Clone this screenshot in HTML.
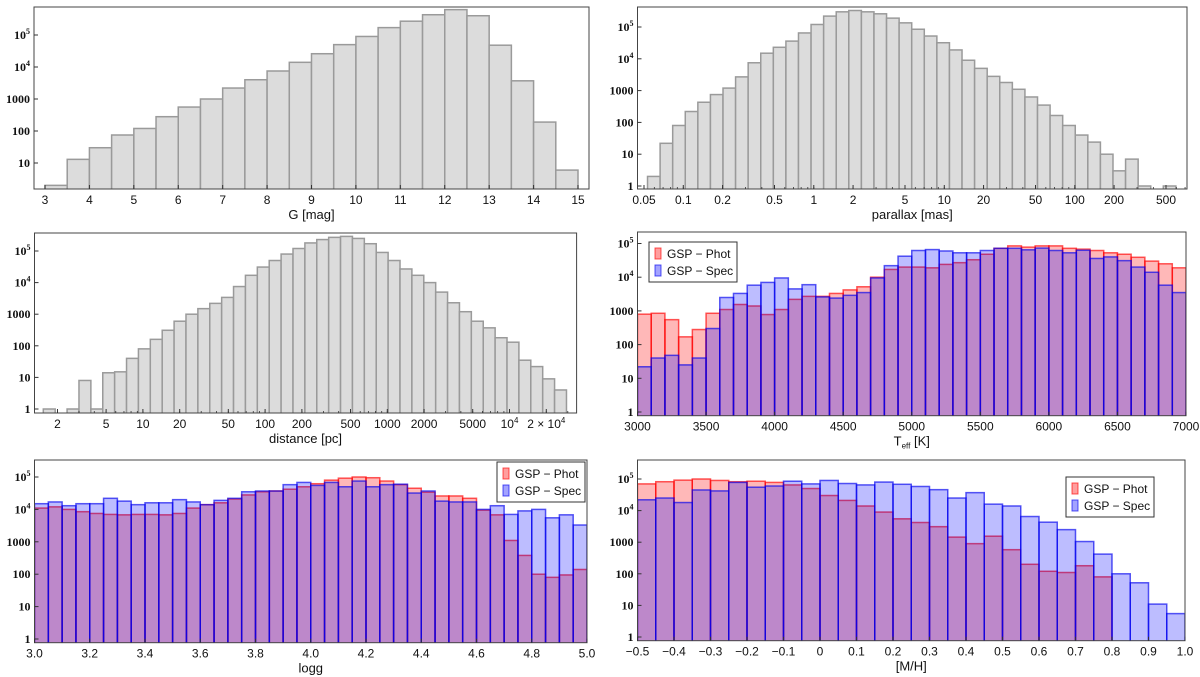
<!DOCTYPE html>
<html><head><meta charset="utf-8"><style>
html,body{margin:0;padding:0;background:#fff;}
svg{display:block;font-family:"Liberation Sans","DejaVu Sans",sans-serif;}
</style></head><body>
<svg id="fig" width="1200" height="677" viewBox="0 0 1200 677" xmlns="http://www.w3.org/2000/svg"></svg>
<script>
// ---- data ----
const gMagValues = [2,13,30,75,120,280,560,1000,2200,4000,7500,14000,26000,50000,90000,170000,270000,430000,620000,400000,48000,3700,190,6];
const parallaxValues = [2,22,80,220,430,750,1200,2700,7500,15000,23000,36000,65000,120000,220000,300000,330000,300000,260000,190000,135000,85000,52000,32000,19000,9000,5000,2800,1800,1100,630,350,165,80,40,24,10,3,7,1,0,1];
const distanceValues = [1,0,1,8,1,14,15,40,80,160,310,600,1000,1500,2200,3400,7500,17000,31000,50000,80000,120000,180000,230000,270000,290000,250000,170000,90000,50000,27000,17000,10000,5000,2300,1200,600,370,180,130,35,22,9,4];
const teffPhot = [800,850,550,170,280,850,1100,1550,1400,780,1100,2200,2700,2700,3300,4200,5200,10000,17000,20000,20000,19000,24000,27000,33000,48000,72000,85000,78000,85000,85000,72000,68000,62000,53000,48000,39000,30000,25000,19000];
const teffSpec = [22,40,48,25,40,300,2500,3300,5800,7000,9500,4500,6000,2600,2400,2900,3500,9500,22000,42000,62000,66000,60000,53000,53000,62000,72000,72000,65000,73000,62000,53000,63000,36000,40000,31000,20000,14000,5800,3500];
const loggPhot = [11000,12000,10000,8500,7500,7000,6800,7000,7000,6800,7500,11000,14000,16000,21000,28000,35000,37000,42000,50000,62000,80000,92000,100000,95000,75000,58000,45000,34000,26000,26000,22000,9500,6800,1100,380,100,80,95,140];
const loggSpec = [15000,17000,13000,15000,15000,22000,18000,14000,16000,16000,20000,17000,14000,19000,22000,35000,37000,37000,58000,68000,55000,68000,50000,75000,50000,58000,60000,32000,37000,18000,17000,17000,10000,13000,7000,9000,10000,5500,6800,3300];
const mhPhot = [70000,82000,92000,100000,90000,82000,85000,78000,65000,50000,30000,21000,14000,9000,5500,4200,3100,1450,900,1550,580,200,120,110,180,80,0,0,0,0];
const mhSpec = [22000,25000,18000,45000,42000,78000,55000,60000,85000,70000,90000,72000,65000,80000,68000,58000,46000,25000,37000,16000,14000,6500,4300,2500,1050,420,100,52,11,5.5];
const gTicks = [3,4,5,6,7,8,9,10,11,12,13,14,15];
const parallaxTicks = [0.05,0.1,0.2,0.5,1,2,5,10,20,50,100,200,500];
const distanceTicks = [2,5,10,20,50,100,200,500,1000,2000,5000,10000,20000];
const teffTicks = [3000,3500,4000,4500,5000,5500,6000,6500,7000];
const loggTicks = [3.0,3.2,3.4,3.6,3.8,4.0,4.2,4.4,4.6,4.8,5.0];
const mhTicks = [-0.5,-0.4,-0.3,-0.2,-0.1,0,0.1,0.2,0.3,0.4,0.5,0.6,0.7,0.8,0.9,1.0];
const yTickVals = [1,10,100,1000,10000,100000];

const NS = "http://www.w3.org/2000/svg";
const svg = document.getElementById('fig');
function mk(tag, attrs, parent){const e=document.createElementNS(NS,tag);for(const k in attrs)e.setAttribute(k,attrs[k]);(parent||svg).appendChild(e);return e;}
function lin(d0,d1,p0,p1){return v=>p0+(v-d0)*(p1-p0)/(d1-d0);}
function logx(p1,dec){return v=>p1+Math.log10(v)*dec;}

function panel(cfg){
  const g = mk('g',{});
  
  
  const [L,T,R,B]=cfg.box;
  const yv = v=>cfg.y1 - Math.log10(v)*cfg.dec;
  const cid='clip-'+cfg.name;
  const cp=mk('clipPath',{id:cid},g); mk('rect',{x:L,y:T,width:R-L,height:B-T},cp);
  const bars=mk('g',{'clip-path':'url(#'+cid+')'},g);
  cfg.series.forEach(s=>{
    s.values.forEach((v,i)=>{
      if(!(v>0))return;
      const x0=cfg.x(cfg.edge(i)), x1=cfg.x(cfg.edge(i+1));
      const y=yv(v);
      const r=mk('rect',{x:x0,y:y,width:x1-x0,height:B+2-y,fill:s.fill,'fill-opacity':s.fo,stroke:s.stroke,'stroke-opacity':s.so,'stroke-width':1.5},bars);
      
      
    });
  });
  // frame
  const fr=mk('rect',{x:L,y:T,width:R-L,height:B-T,fill:'none',stroke:'#444','stroke-width':1},g);
  
  
  // x ticks
  cfg.xticks.forEach((t,i)=>{
    const px=cfg.x(t);
    mk('line',{x1:px,x2:px,y1:B,y2:B-4,stroke:'#333','stroke-width':1},g);
    const tx=mk('text',{x:px,y:B+15,'text-anchor':'middle','font-size':12,fill:'#111'},g);
    
    
    const lab = cfg.xlabels ? cfg.xlabels[i] : String(t);
    if(lab==='10^4'){tx.textContent='10';const sp=mk('tspan',{dy:-5,'font-size':8},tx);sp.textContent='4';}
    else if(lab==='2x10^4'){tx.textContent='2 × 10';const sp=mk('tspan',{dy:-5,'font-size':8},tx);sp.textContent='4';}
    else tx.textContent=lab;
  });
  // minor x ticks
  if(cfg.minor){cfg.minor.forEach(m=>{const px=cfg.x(m);if(px>L&&px<R)mk('line',{x1:px,x2:px,y1:B,y2:B-2,stroke:'#333','stroke-width':0.8},g);});}
  // y ticks
  yTickVals.forEach(v=>{
    const py=yv(v); if(py<T-1||py>B+1)return;
    mk('line',{x1:L,x2:L+4,y1:py,y2:py,stroke:'#333','stroke-width':1},g);
    const tx=mk('text',{x:L-4,y:py+4,'text-anchor':'end','font-size':12,'font-weight':'bold',fill:'#111','font-family':'Liberation Serif, serif'},g);
    
    
    if(v>=10000){tx.textContent='10';const sp=mk('tspan',{dy:-5,'font-size':8},tx);sp.textContent=String(Math.round(Math.log10(v)));}
    else tx.textContent=String(v);
  });
  // x title
  const xt=mk('text',{x:(L+R)/2,y:B+30,'text-anchor':'middle','font-size':13,fill:'#111'},g);
  
  
  if(cfg.title==='Teff'){xt.textContent='T';const s=mk('tspan',{dy:3,'font-size':8},xt);s.textContent='eff';const s2=mk('tspan',{dy:-3},xt);s2.textContent=' [K]';}
  else xt.textContent=cfg.title;
  // legend
  if(cfg.legend){
    const [lx,ly]=cfg.legend;
    const lg=mk('g',{},g);
    
    
    mk('rect',{x:lx,y:ly,width:88,height:40,fill:'#fff',stroke:'#333','stroke-width':1},lg);
    cfg.series.forEach((s,i)=>{
      const e=mk('g',{},lg);
      
      
      mk('rect',{x:lx+6,y:ly+6+i*17,width:6,height:11,fill:s.fill,'fill-opacity':s.fo+0.1,stroke:s.stroke,'stroke-opacity':s.so},e);
      const t=mk('text',{x:lx+18,y:ly+16+i*17,'font-size':12,fill:'#111'},e);
      t.textContent=s.label;
    });
  }
}
function logMinor(lo,hi){const a=[];for(let e=lo;e<=hi;e++)for(let k=1;k<10;k++)a.push(k*Math.pow(10,e));return a;}
const gray={key:'count',values:null,fill:'#dcdcdc',fo:1,stroke:'#9a9a9a',so:1};
const red=(v)=>({key:'phot',label:'GSP − Phot',values:v,fill:'#ff0000',fo:0.28,stroke:'#ff0000',so:0.65});
const blue=(v)=>({key:'spec',label:'GSP − Spec',values:v,fill:'#0000ff',fo:0.26,stroke:'#0000ee',so:0.65});

panel({name:'g-mag-panel',box:[34,7,589,189],x:lin(3,15,45,578),edge:i=>3+0.5*i,y1:195,dec:32,
  series:[Object.assign({},gray,{values:gMagValues})],xticks:gTicks,title:'G [mag]',minor:[]});
panel({name:'parallax-panel',box:[637.5,7,1187,189],x:v=>644+(Math.log10(v)-Math.log10(0.05))*130.5,
  edge:i=>Math.pow(10,-1.274+0.0964*i),y1:186,dec:31.8,
  series:[Object.assign({},gray,{values:parallaxValues})],xticks:parallaxTicks,title:'parallax [mas]',minor:logMinor(-2,2)});
panel({name:'distance-panel',box:[34.5,233,576.6,413],x:logx(20.7,122.2),edge:i=>Math.pow(10,0.185+0.0973*i),y1:409,dec:31.6,
  series:[Object.assign({},gray,{values:distanceValues})],xticks:distanceTicks,
  xlabels:['2','5','10','20','50','100','200','500','1000','2000','5000','10^4','2x10^4'],title:'distance [pc]',minor:logMinor(0,4)});
panel({name:'teff-panel',box:[637.5,232,1186,415.7],x:lin(3000,7000,637.5,1186),edge:i=>3000+100*i,y1:412,dec:33.7,
  series:[red(teffPhot),blue(teffSpec)],xticks:teffTicks,title:'Teff',legend:[649,242]});
panel({name:'logg-panel',box:[34.5,460,587,642.7],x:lin(3,5,34.5,587),edge:i=>3+0.05*i,y1:639,dec:32.4,
  series:[red(loggPhot),blue(loggSpec)],xticks:loggTicks,xlabels:loggTicks.map(v=>v.toFixed(1)),title:'logg',legend:[497,462]});
panel({name:'mh-panel',box:[637.5,460,1185,640.7],x:lin(-0.5,1,637.5,1185),edge:i=>-0.5+0.05*i,y1:637,dec:31.6,
  series:[red(mhPhot),blue(mhSpec)],xticks:mhTicks,xlabels:mhTicks.map(v=>v===0?'0':(v<0?'−'+(-v).toFixed(1):v.toFixed(1))),title:'[M/H]',legend:[1066,477]});
</script>
</body></html>
